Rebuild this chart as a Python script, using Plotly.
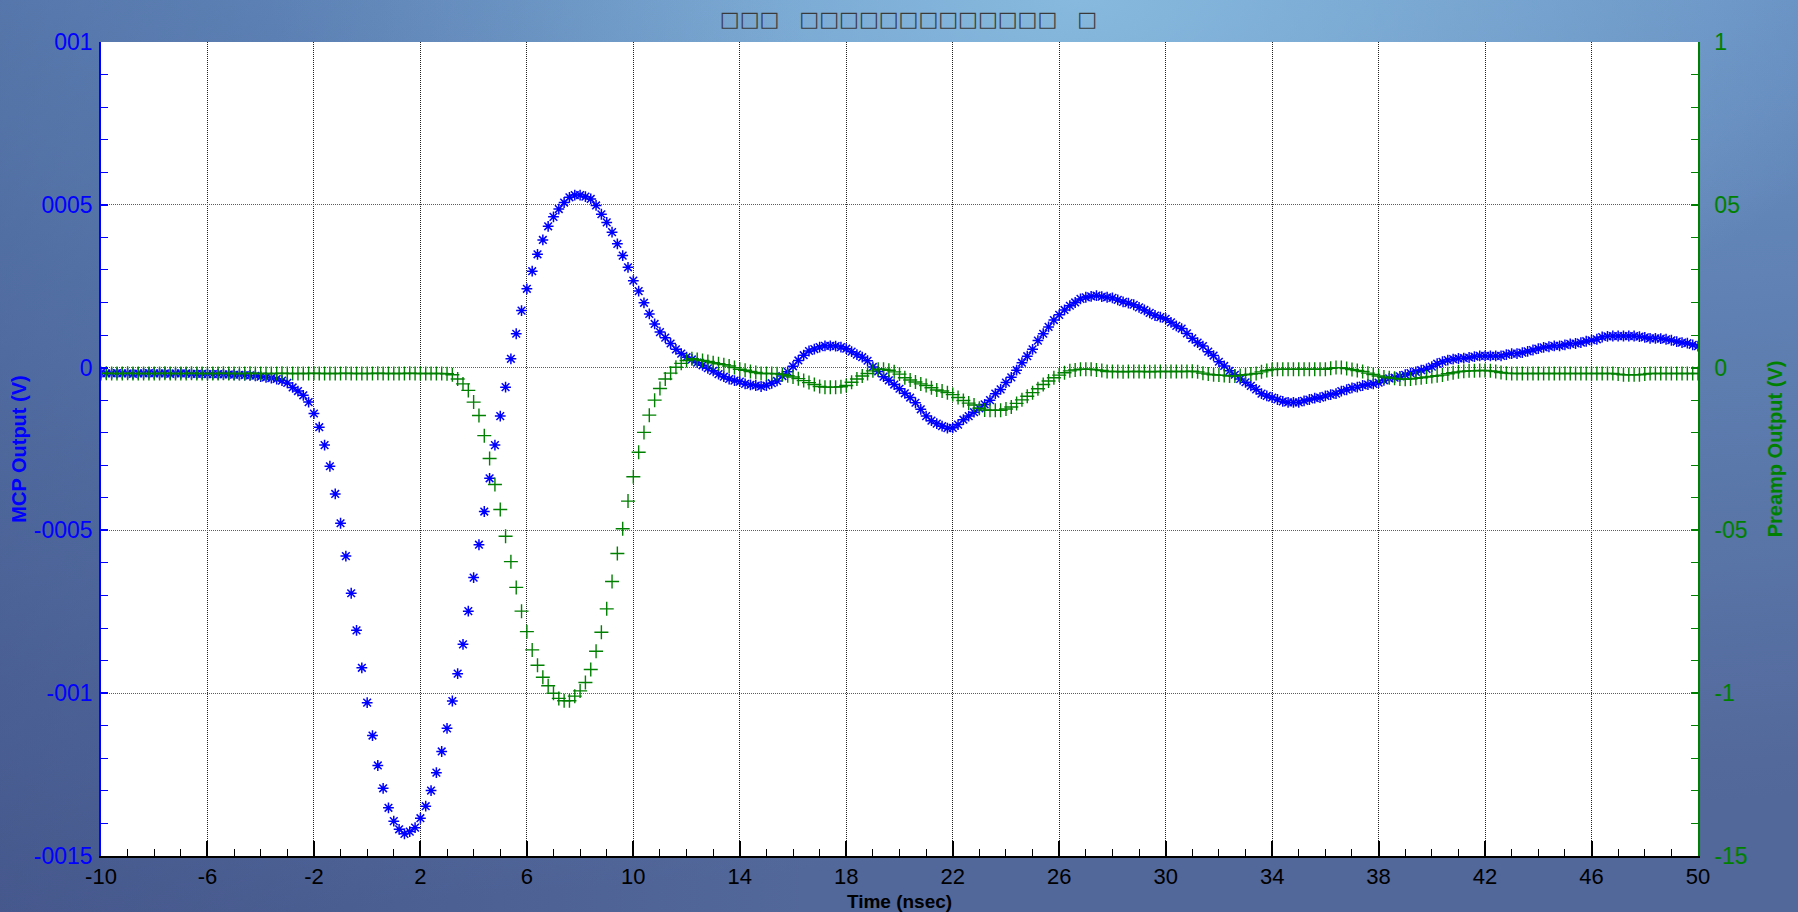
import base64
import plotly.graph_objects as go

# ---------------- data ----------------
t_start, t_step, n_samples = -10.0, 0.2, 301
time_ns = [round(t_start + t_step * i, 1) for i in range(n_samples)]

# MCP output (V), left axis, one row = 2 ns (10 samples)
mcp_output = [
    -0.00017, -0.00018, -0.00018, -0.00017, -0.00018, -0.00018, -0.00019, -0.00018, -0.00018, -0.00017,  # -10
    -0.00018, -0.00018, -0.00018, -0.00019, -0.00018, -0.00018, -0.00018, -0.00019, -0.00019, -0.00019,  # -8
    -0.0002, -0.0002, -0.0002, -0.00021, -0.00021, -0.00022, -0.00022, -0.00023, -0.00024, -0.00025,     # -6
    -0.00028, -0.0003, -0.00032, -0.00035, -0.0004, -0.00047, -0.00061, -0.00072, -0.00085, -0.00106,    # -4
    -0.00141, -0.00183, -0.00238, -0.00303, -0.00388, -0.00478, -0.00579, -0.00693, -0.00807, -0.00922,  # -2
    -0.01029, -0.0113, -0.01222, -0.01292, -0.01352, -0.01393, -0.01418, -0.01432, -0.01425, -0.01413,   # 0
    -0.01384, -0.01347, -0.01299, -0.01244, -0.01179, -0.01108, -0.01024, -0.0094, -0.0085, -0.00748,    # 2
    -0.00645, -0.00544, -0.00442, -0.0034, -0.00238, -0.00149, -0.0006, 0.00027, 0.00104, 0.00175,       # 4
    0.00242, 0.00296, 0.00348, 0.00392, 0.00434, 0.00463, 0.00487, 0.00507, 0.00523, 0.0053,             # 6
    0.0053, 0.00525, 0.00518, 0.00498, 0.00471, 0.00446, 0.00416, 0.0038, 0.00344, 0.00308,              # 8
    0.00267, 0.00235, 0.00199, 0.00165, 0.00134, 0.00109, 0.00092, 0.00074, 0.00056, 0.00043,            # 10
    0.00032, 0.00025, 0.00015, 0.00007, -0.00002, -0.0001, -0.0002, -0.00028, -0.00035, -0.0004,         # 12
    -0.00043, -0.0005, -0.00053, -0.00055, -0.00058, -0.00055, -0.00048, -0.00041, -0.00026, -0.00013,   # 14
    0.00004, 0.00022, 0.00038, 0.00051, 0.00057, 0.00063, 0.00067, 0.00067, 0.00066, 0.00063,            # 16
    0.00058, 0.00049, 0.0004, 0.00032, 0.00021, 0.00002, -0.00012, -0.00028, -0.00039, -0.00052,         # 18
    -0.00065, -0.00079, -0.00092, -0.00108, -0.00128, -0.00149, -0.00163, -0.00172, -0.0018, -0.00186,   # 20
    -0.00185, -0.00175, -0.0016, -0.00149, -0.00137, -0.00125, -0.00113, -0.001, -0.0008, -0.00067,      # 22
    -0.00046, -0.0003, -0.00008, 0.00015, 0.00035, 0.00056, 0.00083, 0.00104, 0.00125, 0.00146,          # 24
    0.00162, 0.00177, 0.0019, 0.002, 0.00211, 0.00216, 0.00219, 0.00221, 0.00218, 0.00216,               # 26
    0.00214, 0.00208, 0.00202, 0.00198, 0.00193, 0.00185, 0.00177, 0.00168, 0.0016, 0.00155,             # 28
    0.0015, 0.00139, 0.00128, 0.0012, 0.00105, 0.0009, 0.00077, 0.00066, 0.00049, 0.00037,               # 30
    0.00018, 0.00005, -0.0001, -0.00022, -0.00035, -0.00045, -0.00056, -0.00067, -0.0008, -0.00087,      # 32
    -0.00092, -0.00098, -0.00104, -0.00107, -0.00107, -0.00107, -0.00102, -0.00098, -0.00094, -0.00092,  # 34
    -0.00087, -0.00083, -0.0008, -0.00072, -0.00068, -0.00062, -0.0006, -0.00055, -0.00052, -0.0005,     # 36
    -0.00046, -0.00039, -0.00033, -0.00031, -0.00027, -0.00022, -0.00017, -0.00013, -0.00008, -0.00004,  # 38
    0.00003, 0.00012, 0.00018, 0.00023, 0.00026, 0.00028, 0.00029, 0.00031, 0.00034, 0.00036,            # 40
    0.00036, 0.00036, 0.00036, 0.00036, 0.0004, 0.00043, 0.00043, 0.00046, 0.0005, 0.00054,              # 42
    0.00058, 0.00062, 0.00064, 0.00067, 0.00067, 0.0007, 0.00073, 0.00074, 0.00077, 0.00081,             # 44
    0.00084, 0.00087, 0.00094, 0.00096, 0.00097, 0.00097, 0.00097, 0.00097, 0.00097, 0.00095,            # 46
    0.00093, 0.0009, 0.0009, 0.00089, 0.00087, 0.00084, 0.0008, 0.00077, 0.00075, 0.0007,                # 48
    0.00066,                                                                                             # 50
]

# Preamp output (V), right axis
preamp_output = [
    -0.018, -0.017, -0.018, -0.018, -0.018, -0.017, -0.018, -0.018, -0.018, -0.018,  # -10
    -0.018, -0.018, -0.017, -0.018, -0.018, -0.018, -0.018, -0.017, -0.018, -0.018,  # -8
    -0.018, -0.018, -0.018, -0.017, -0.018, -0.018, -0.018, -0.018, -0.017, -0.018,  # -6
    -0.018, -0.018, -0.018, -0.018, -0.017, -0.018, -0.018, -0.018, -0.018, -0.018,  # -4
    -0.017, -0.018, -0.018, -0.018, -0.018, -0.018, -0.017, -0.018, -0.018, -0.018,  # -2
    -0.018, -0.018, -0.017, -0.018, -0.018, -0.018, -0.018, -0.018, -0.017, -0.018,  # 0
    -0.018, -0.018, -0.018, -0.018, -0.018, -0.019, -0.022, -0.035, -0.05, -0.07,    # 2
    -0.106, -0.147, -0.209, -0.279, -0.359, -0.436, -0.518, -0.596, -0.675, -0.748,  # 4
    -0.811, -0.867, -0.914, -0.951, -0.977, -1.0, -1.016, -1.023, -1.023, -1.009,    # 6
    -0.993, -0.967, -0.927, -0.871, -0.813, -0.741, -0.657, -0.571, -0.495, -0.41,   # 8
    -0.335, -0.26, -0.199, -0.146, -0.1, -0.064, -0.035, -0.017, 0.001, 0.013,       # 10
    0.022, 0.027, 0.025, 0.022, 0.019, 0.015, 0.012, 0.009, 0.005, 0.0,              # 12
    -0.005, -0.008, -0.012, -0.015, -0.018, -0.018, -0.018, -0.019, -0.021, -0.025,  # 14
    -0.029, -0.034, -0.04, -0.046, -0.052, -0.058, -0.06, -0.06, -0.06, -0.059,      # 16
    -0.055, -0.045, -0.035, -0.026, -0.018, -0.01, -0.005, -0.005, -0.008, -0.013,   # 18
    -0.02, -0.031, -0.038, -0.044, -0.05, -0.055, -0.062, -0.069, -0.072, -0.077,    # 20
    -0.083, -0.092, -0.101, -0.109, -0.115, -0.125, -0.13, -0.131, -0.131, -0.131,   # 22
    -0.127, -0.121, -0.11, -0.099, -0.088, -0.077, -0.065, -0.052, -0.041, -0.031,   # 24
    -0.023, -0.016, -0.01, -0.007, -0.005, -0.005, -0.005, -0.007, -0.009, -0.012,   # 26
    -0.012, -0.012, -0.013, -0.012, -0.012, -0.012, -0.012, -0.013, -0.012, -0.012,  # 28
    -0.012, -0.012, -0.012, -0.012, -0.012, -0.011, -0.013, -0.017, -0.02, -0.022,   # 30
    -0.023, -0.024, -0.026, -0.026, -0.024, -0.022, -0.02, -0.018, -0.013, -0.009,   # 32
    -0.006, -0.005, -0.005, -0.005, -0.005, -0.005, -0.005, -0.005, -0.005, -0.005,  # 34
    -0.005, -0.002, 0.0, 0.0, -0.003, -0.006, -0.009, -0.012, -0.017, -0.021,       # 36
    -0.026, -0.029, -0.031, -0.033, -0.035, -0.036, -0.035, -0.033, -0.031, -0.029,  # 38
    -0.027, -0.025, -0.023, -0.019, -0.016, -0.013, -0.011, -0.01, -0.01, -0.009,    # 40
    -0.009, -0.01, -0.012, -0.015, -0.017, -0.018, -0.018, -0.018, -0.018, -0.018,   # 42
    -0.018, -0.018, -0.018, -0.018, -0.018, -0.018, -0.018, -0.018, -0.018, -0.018, # 44
    -0.018, -0.018, -0.018, -0.018, -0.018, -0.02, -0.022, -0.022, -0.022, -0.022,   # 46
    -0.02, -0.018, -0.018, -0.018, -0.018, -0.018, -0.018, -0.018, -0.018, -0.018,   # 48
    -0.018,                                                                          # 50
]

x_tickvals = [-10, -6, -2, 2, 6, 10, 14, 18, 22, 26, 30, 34, 38, 42, 46, 50]
x_ticktext = ["-10", "-6", "-2", "2", "6", "10", "14", "18", "22", "26", "30", "34", "38", "42", "46", "50"]
y1_tickvals = [-0.015, -0.01, -0.005, 0, 0.005, 0.01]
y1_ticktext = ["-0015", "-001", "-0005", "0", "0005", "001"]
y2_tickvals = [-1.5, -1, -0.5, 0, 0.5, 1]
y2_ticktext = ["-15", "-1", "-05", "0", "05", "1"]

title_text = "□□□   □□□□□□□□□□□□□   □"
x_title = "Time (nsec)"
y1_title = "MCP Output (V)"
y2_title = "Preamp Output (V)"

# ---------------- layout geometry ----------------
W, H = 1798, 912
ML, MR, MT, MB = 101, 100, 42, 56
PW, PH = W - ML - MR, H - MT - MB

BLUE = "#0000ff"
GREEN = "#008000"
FONT = "Liberation Sans, Arial, sans-serif"

svg = f"""<svg xmlns="http://www.w3.org/2000/svg" width="{W}" height="{H}" viewBox="0 0 {W} {H}" preserveAspectRatio="none">
<defs>
<linearGradient id="base" x1="0" y1="0" x2="0.15" y2="1">
<stop offset="0" stop-color="#6b97c9"/><stop offset="1" stop-color="#52679a"/>
</linearGradient>
<linearGradient id="left" x1="0" y1="0" x2="1" y2="0">
<stop offset="0" stop-color="#2e3a72" stop-opacity="0.35"/><stop offset="0.45" stop-color="#2e3a72" stop-opacity="0"/>
</linearGradient>
<radialGradient id="hl" cx="0.6" cy="0" r="0.45">
<stop offset="0" stop-color="#8cc0e2" stop-opacity="0.85"/><stop offset="1" stop-color="#8cc0e2" stop-opacity="0"/>
</radialGradient>
</defs>
<rect x="0" y="0" width="{W}" height="{H}" fill="url(#base)"/>
<rect x="0" y="0" width="{W}" height="{H}" fill="url(#hl)"/>
<rect x="0" y="0" width="{W}" height="{H}" fill="url(#left)"/>
<rect x="{ML}" y="{MT}" width="{PW}" height="{PH}" fill="#ffffff"/>
</svg>"""
bg_src = "data:image/svg+xml;base64," + base64.b64encode(svg.encode()).decode()

fig = go.Figure()
fig.add_trace(go.Scatter(
    x=time_ns, y=mcp_output, mode="markers", name=y1_title,
    marker=dict(symbol="asterisk-open", size=9, color=BLUE, line=dict(color=BLUE, width=1.5)),
    yaxis="y", showlegend=False,
))
fig.add_trace(go.Scatter(
    x=time_ns, y=preamp_output, mode="markers", name=y2_title,
    marker=dict(symbol="cross-thin-open", size=10, color=GREEN, line=dict(color=GREEN, width=1.4)),
    yaxis="y2", showlegend=False,
))

fig.update_layout(
    width=W, height=H,
    margin=dict(l=ML, r=MR, t=MT, b=MB, autoexpand=False),
    paper_bgcolor="#55699c",
    plot_bgcolor="white",
    images=[dict(source=bg_src, xref="paper", yref="paper",
                 x=-ML / PW, y=1 + MT / PH, sizex=W / PW, sizey=H / PH,
                 xanchor="left", yanchor="top", sizing="stretch", layer="below")],
    title=dict(text=title_text, x=0.5 + 9 / PW, xref="paper", xanchor="center",
               y=1 - 19 / H, yref="container", yanchor="middle",
               font=dict(family="DejaVu Sans", size=21, color="#3a3a3a")),
    font=dict(family=FONT),
    xaxis=dict(
        range=[-10, 50], tickmode="array", tickvals=x_tickvals, ticktext=x_ticktext,
        ticks="inside", ticklen=15, tickwidth=1.5, tickcolor="black",
        minor=dict(tickmode="linear", tick0=-10, dtick=1, ticks="inside", ticklen=7,
                   tickwidth=1.2, tickcolor="black", showgrid=False),
        showgrid=True, gridcolor="#222222", griddash="1px,1px", gridwidth=1,
        showline=True, linecolor="black", linewidth=2, zeroline=False, automargin=False,
        tickfont=dict(size=22, color="black", family=FONT),
        title=dict(text=x_title, font=dict(size=19, color="black", family=FONT, weight="bold"), standoff=10),
    ),
    yaxis=dict(
        range=[-0.015, 0.01], tickmode="array", tickvals=y1_tickvals, ticktext=y1_ticktext,
        ticks="inside", ticklen=7, tickwidth=1.5, tickcolor=BLUE,
        minor=dict(tickmode="linear", tick0=0, dtick=0.001, ticks="inside", ticklen=7,
                   tickwidth=1.2, tickcolor=BLUE, showgrid=False),
        showgrid=True, gridcolor="#2b6f78", griddash="1px,1px", gridwidth=1,
        showline=True, linecolor=BLUE, linewidth=1.5, zeroline=False, automargin=False,
        tickfont=dict(size=23, color=BLUE, family=FONT), ticklabelstandoff=2,
        title=dict(text=y1_title, font=dict(size=20, color=BLUE, family=FONT, weight="bold"), standoff=2),
    ),
    yaxis2=dict(
        range=[-1.5, 1], overlaying="y", side="right", anchor="x",
        tickmode="array", tickvals=y2_tickvals, ticktext=y2_ticktext,
        ticks="inside", ticklen=7, tickwidth=1.5, tickcolor=GREEN,
        minor=dict(tickmode="linear", tick0=0, dtick=0.1, ticks="inside", ticklen=7,
                   tickwidth=1.2, tickcolor=GREEN, showgrid=False),
        showgrid=False, showline=True, linecolor=GREEN, linewidth=1.5, zeroline=False, automargin=False,
        tickfont=dict(size=23, color=GREEN, family=FONT), ticklabelstandoff=10,
        title=dict(text=y2_title, font=dict(size=20, color=GREEN, family=FONT, weight="bold"), standoff=21),
    ),
)

fig.write_html("out.html")
